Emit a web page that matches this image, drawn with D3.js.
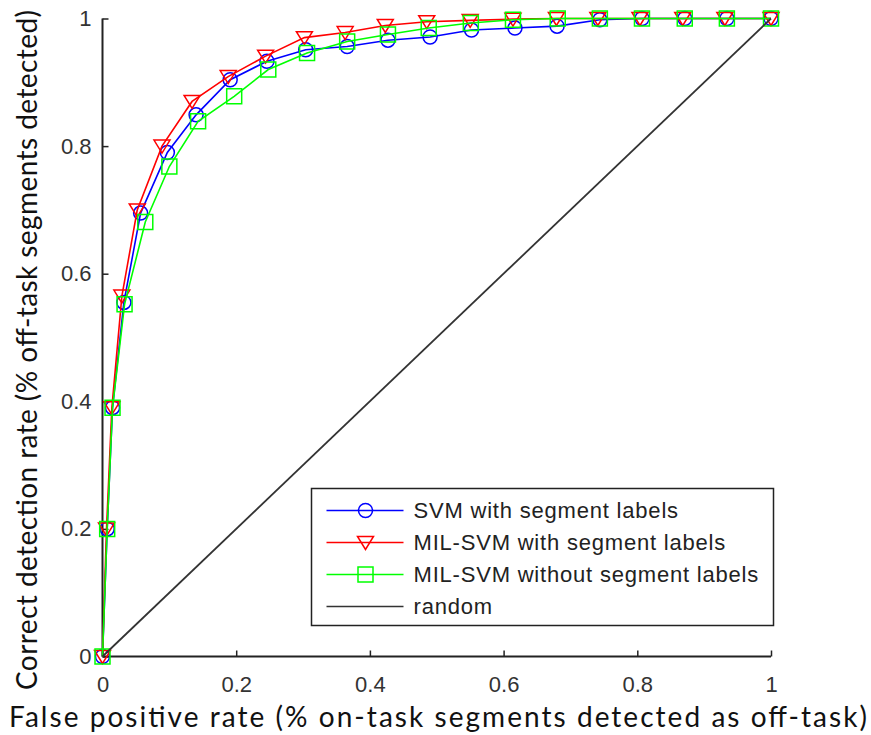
<!DOCTYPE html>
<html>
<head>
<meta charset="utf-8">
<script src="https://cdn.jsdelivr.net/npm/d3@7"></script>
<style>
  html, body { margin: 0; padding: 0; background: #fff; }
  svg { display: block; }
  .tick-label { font-family: "Liberation Sans", Arial, sans-serif; font-size: 22px; fill: #333; }
  .axis-title { font-family: Lato, "Open Sans", sans-serif; font-size: 28px; fill: #111; }
  .legend-text { font-family: "Liberation Sans", Arial, sans-serif; font-size: 22px; fill: #222; letter-spacing: 0.8px; }
</style>
</head>
<body>
<svg width="871" height="735"></svg>
<script>
"use strict";

// ROC points (false positive rate, detection rate)
const svmX = [0, 0.007, 0.015, 0.032, 0.057, 0.097, 0.14, 0.191, 0.246, 0.304, 0.366, 0.427, 0.49, 0.552, 0.617, 0.68, 0.744, 0.807, 0.871, 0.934, 1];
const svmY = [0, 0.2, 0.39, 0.555, 0.695, 0.79, 0.849, 0.904, 0.933, 0.951, 0.956, 0.966, 0.971, 0.982, 0.985, 0.988, 0.998, 1, 1, 1, 1];

const milX = [0, 0.006, 0.014, 0.029, 0.052, 0.089, 0.134, 0.188, 0.244, 0.302, 0.363, 0.423, 0.485, 0.55, 0.614, 0.679, 0.741, 0.804, 0.868, 0.931, 1];
const milY = [0, 0.2, 0.39, 0.565, 0.7, 0.8, 0.87, 0.909, 0.941, 0.97, 0.978, 0.989, 0.995, 0.997, 0.999, 1, 1, 1, 1, 1, 1];

const milNoX = [0, 0.007, 0.015, 0.033, 0.064, 0.1, 0.143, 0.197, 0.248, 0.306, 0.366, 0.427, 0.488, 0.551, 0.614, 0.681, 0.744, 0.807, 0.871, 0.934, 1];
const milNoY = [0, 0.2, 0.39, 0.552, 0.681, 0.768, 0.839, 0.878, 0.92, 0.946, 0.964, 0.975, 0.985, 0.993, 0.998, 1, 1, 1, 1, 1, 1];

const randomX = [0, 1];
const randomY = [0, 1];

const seriesNames = ["SVM with segment labels", "MIL-SVM with segment labels", "MIL-SVM without segment labels", "random"];
const tickValues = [0, 0.2, 0.4, 0.6, 0.8, 1];

const xAxisLabel = "False positive rate (% on-task segments detected as off-task)";
const yAxisLabel = "Correct detection rate (% off-task segments detected)";

const svg = d3.select("svg");
const width = +svg.attr("width");
const height = +svg.attr("height");

const margin = { top: 18.5, right: 100, bottom: 78.5, left: 102.5 };

const xScale = d3.scaleLinear().domain([0, 1]).range([margin.left, width - margin.right]);
const yScale = d3.scaleLinear().domain([0, 1]).range([height - margin.bottom, margin.top]);

const zip = (xs, ys) => xs.map((x, i) => ({ x, y: ys[i] }));

const series = [
  { name: seriesNames[0], color: "#0000ff", marker: "circle", data: zip(svmX, svmY) },
  { name: seriesNames[1], color: "#ff0000", marker: "triangle", data: zip(milX, milY) },
  { name: seriesNames[2], color: "#00ff00", marker: "square", data: zip(milNoX, milNoY) },
  { name: seriesNames[3], color: "#333333", marker: null, data: zip(randomX, randomY) }
];

// marker shapes, relative to the point
const markerPath = type => {
  if (type === "circle") {
    const r = 7;
    return `M${-r},0A${r},${r} 0 1,0 ${r},0A${r},${r} 0 1,0 ${-r},0Z`;
  }
  if (type === "triangle") return "M-8,-6L8,-6L0,7Z";
  if (type === "square") return "M-7.5,-7.5L7.5,-7.5L7.5,7.5L-7.5,7.5Z";
  return "";
};

const line = d3.line().x(d => xScale(d.x)).y(d => yScale(d.y));

// axes (left and bottom only, ticks pointing inward)
const xAxis = d3.axisBottom(xScale).tickValues(tickValues).tickSize(-6).tickFormat(d3.format("~g")).tickPadding(20);
const yAxis = d3.axisLeft(yScale).tickValues(tickValues).tickSize(-6).tickFormat(d3.format("~g")).tickPadding(11);

const xAxisG = svg.append("g")
  .attr("transform", `translate(0,${yScale(0)})`)
  .call(xAxis);
const yAxisG = svg.append("g")
  .attr("transform", `translate(${xScale(0)},0)`)
  .call(yAxis);

[xAxisG, yAxisG].forEach(g => {
  g.select(".domain").remove();
  g.selectAll(".tick line").attr("stroke", "#222").attr("stroke-width", 1.5);
  g.selectAll(".tick text").attr("class", "tick-label").attr("fill", null);
});

svg.append("line")
  .attr("x1", xScale(0)).attr("x2", xScale(1))
  .attr("y1", yScale(0)).attr("y2", yScale(0))
  .attr("stroke", "#222").attr("stroke-width", 2);
svg.append("line")
  .attr("x1", xScale(0)).attr("x2", xScale(0))
  .attr("y1", yScale(0)).attr("y2", yScale(1))
  .attr("stroke", "#222").attr("stroke-width", 2);

// curves
const plotG = svg.append("g");
series.forEach(s => {
  plotG.append("path")
    .datum(s.data)
    .attr("d", line)
    .attr("fill", "none")
    .attr("stroke", s.color)
    .attr("stroke-width", s.marker ? 1.6 : 1.8);
  if (s.marker) {
    plotG.selectAll(null)
      .data(s.data)
      .enter()
      .append("path")
      .attr("transform", d => `translate(${xScale(d.x)},${yScale(d.y)})`)
      .attr("d", markerPath(s.marker))
      .attr("fill", "none")
      .attr("stroke", s.color)
      .attr("stroke-width", 1.5);
  }
});

// axis titles
svg.append("text")
  .attr("class", "axis-title")
  .attr("x", 438)
  .attr("y", 727)
  .attr("text-anchor", "middle")
  .attr("textLength", 858)
  .text(xAxisLabel);

svg.append("text")
  .attr("class", "axis-title")
  .attr("transform", `translate(37,350) rotate(-90)`)
  .attr("text-anchor", "middle")
  .attr("textLength", 680)
  .text(yAxisLabel);

// legend
const legend = svg.append("g").attr("transform", "translate(311.5,488.5)");
legend.append("rect")
  .attr("width", 462)
  .attr("height", 137)
  .attr("fill", "#fff")
  .attr("stroke", "#222")
  .attr("stroke-width", 1.5);

const rowSpacing = 32;
const rows = legend.selectAll(".row")
  .data(series)
  .enter()
  .append("g")
  .attr("class", "row")
  .attr("transform", (d, i) => `translate(0,${22 + i * rowSpacing})`);

rows.append("line")
  .attr("x1", 15).attr("x2", 92)
  .attr("stroke", d => d.color)
  .attr("stroke-width", 1.6);
rows.filter(d => d.marker)
  .append("path")
  .attr("transform", "translate(54,0)")
  .attr("d", d => markerPath(d.marker))
  .attr("fill", "none")
  .attr("stroke", d => d.color)
  .attr("stroke-width", 1.5);
rows.append("text")
  .attr("class", "legend-text")
  .attr("x", 102)
  .attr("dy", "0.36em")
  .text(d => d.name);
</script>
</body>
</html>
